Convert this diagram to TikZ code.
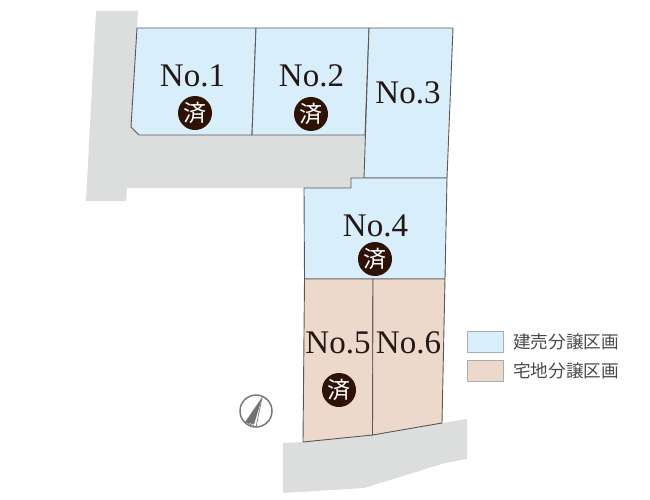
\documentclass[tikz,border=0pt]{standalone}
\usepackage{fontspec}
\newfontfamily\cjk{Noto Sans CJK JP}
\newfontfamily\lotfont{Liberation Serif}
\definecolor{lotblue}{HTML}{D8EFFB}
\definecolor{lottan}{HTML}{ECD9CC}
\definecolor{road}{HTML}{DCDDDD}
\definecolor{ink}{HTML}{231815}
\definecolor{edge}{HTML}{595757}
\definecolor{soldbg}{HTML}{2E1206}
\definecolor{legendtxt}{HTML}{4C4948}
\tikzset{
  lotb/.style={fill=lotblue,draw=edge,line width=0.9pt,line join=miter},
  lott/.style={fill=lottan,draw=edge,line width=0.9pt,line join=miter},
  roadarea/.style={fill=road,draw=none},
  lotlabel/.style={font=\lotfont\fontsize{33}{33}\selectfont,text=ink,inner sep=0pt},
  sold/.style={circle,fill=soldbg,text=white,minimum size=34pt,inner sep=0pt,font=\cjk\fontsize{23}{23}\selectfont},
  legendbox/.style={draw=gray!65,line width=0.8pt,minimum width=36pt,minimum height=21pt,inner sep=0pt},
  legendtext/.style={anchor=west,inner sep=0pt,text=legendtxt,font=\cjk\fontsize{17.6}{17.6}\selectfont},
}
\begin{document}
\begin{tikzpicture}[x=1pt,y=-1pt]
\useasboundingbox (0,0) rectangle (650,500);
% roads
\fill[roadarea] (96,11) -- (138,11) -- (137,28) -- (131,127) -- (139,135) -- (365,135) -- (364,178) -- (351,178) -- (351,188) -- (127,188) -- (126,201) -- (86,201) -- cycle;
\fill[roadarea] (283,443) -- (303,442) -- (372.5,435) -- (442,423) -- (467,419) -- (467,459) -- (445,463) -- (364,488) -- (283,493) -- cycle;
% lots
\draw[lotb] (137,28) -- (256,28) -- (252,135) -- (139,135) -- (131,127) -- cycle;
\draw[lotb] (256,28) -- (369,28) -- (365,135) -- (252,135) -- cycle;
\draw[lotb] (369,28) -- (453,28) -- (447,178) -- (364,178) -- cycle;
\draw[lotb] (304,188) -- (351,188) -- (351,178) -- (447,178) -- (445,279) -- (304.5,279) -- cycle;
\draw[lott] (304.5,279) -- (373,279) -- (372.5,435) -- (303,442) -- cycle;
\draw[lott] (373,279) -- (445,279) -- (442,423) -- (372.5,435) -- cycle;
% labels
\node[lotlabel] (n1) at (192.5,76) {No.1};
\node[lotlabel] (n2) at (311.5,76) {No.2};
\node[lotlabel] (n3) at (408,93) {No.3};
\node[lotlabel] (n4) at (375.5,226) {No.4};
\node[lotlabel] (n5) at (338,343) {No.5};
\node[lotlabel] (n6) at (408.5,343) {No.6};
\node[sold] (s1) at (195,113) {済};
\node[sold] (s2) at (311,114) {済};
\node[sold] (s4) at (375,259) {済};
\node[sold] (s5) at (339,390) {済};
% north mark
\draw[edge!80,line width=1.5pt] (256,411) circle (16);
\fill[edge!85] (262,398) -- (245.5,422) -- (254,424.5) -- cycle;
\draw[edge!80,line width=0.7pt] (262,398) -- (256,427) -- (245.5,422) -- cycle;
% legend
\node[legendbox,fill=lotblue] (k1) at (485,341.5) {};
\node[legendbox,fill=lottan] (k2) at (485,370.5) {};
\node[legendtext] (t1) at (513,342) {建売分譲区画};
\node[legendtext] (t2) at (513,371) {宅地分譲区画};
\end{tikzpicture}
\end{document}
